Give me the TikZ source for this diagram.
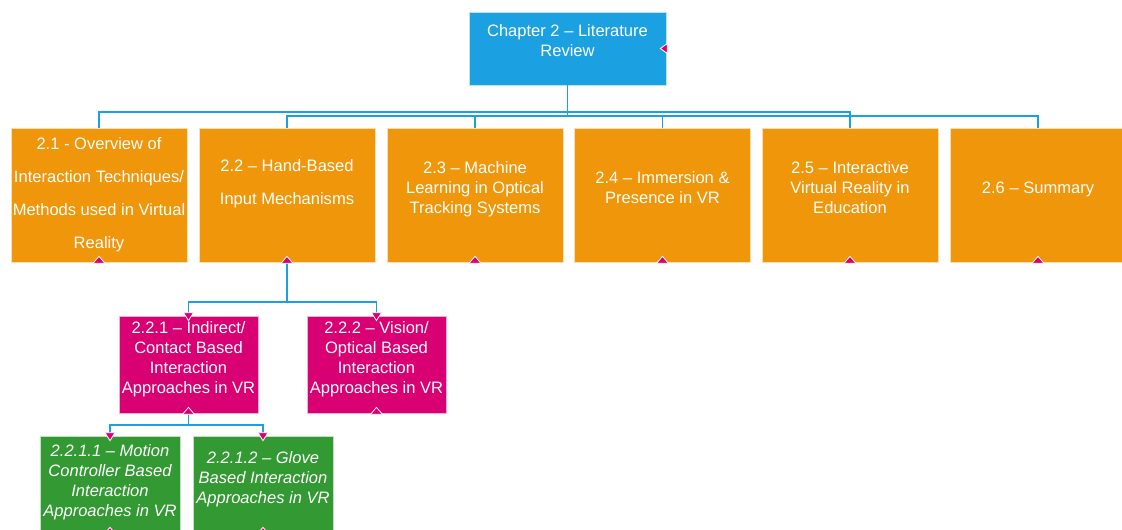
\documentclass[tikz,border=0pt]{standalone}
\usepackage{fontspec}
\setmainfont{Liberation Sans}
\usetikzlibrary{positioning}
\definecolor{chapblue}{HTML}{1BA1E2}
\definecolor{secorange}{HTML}{F0960B}
\definecolor{subpink}{HTML}{D80073}
\definecolor{subgreen}{HTML}{339933}
\tikzset{
  box/.style={draw=white!70!#1, line width=0.5pt, fill=#1, text=white, align=center,
    font=\fontsize{12.4}{15}\selectfont, inner sep=0pt},
  chapbox/.style={box=chapblue, minimum width=147.75pt, minimum height=54.75pt},
  secbox/.style={box=secorange, minimum width=132pt, minimum height=100.5pt},
  subbox/.style={box=subpink, minimum width=104.25pt, minimum height=72.75pt},
  leafbox/.style={box=subgreen, minimum width=105pt, minimum height=72.75pt,
    font=\fontsize{12.4}{15}\selectfont\itshape},
  loose/.style={font=\fontsize{12.4}{24.75}\selectfont},
  link/.style={draw=chapblue, line width=1.3pt},
  notch/.style={fill=subpink, draw=white, line width=0.6pt}
}
\begin{document}
\begin{tikzpicture}[x=0.75pt, y=-0.75pt]
  \useasboundingbox (0,0) rectangle (1122,529);

  % chapter
  \node [chapbox] (chap) at (567.5,48.5) {Chapter 2 -- Literature\\Review\\[-3.75pt]};

  % sections
  \node [secbox, loose] (s1) at (99,195) {2.1 - Overview of\\Interaction Techniques/\\Methods used in Virtual\\Reality};
  \node [secbox, loose] (s2) at (287,195) {2.2 -- Hand-Based\\Input Mechanisms\\[-5.5pt]};
  \node [secbox] (s3) at (475,195) {2.3 -- Machine\\Learning in Optical\\Tracking Systems\\[-4.5pt]};
  \node [secbox] (s4) at (662.5,195) {2.4 -- Immersion \&\\Presence in VR\\[-4.5pt]};
  \node [secbox] (s5) at (850,195) {2.5 -- Interactive\\Virtual Reality in\\Education\\[-4.5pt]};
  \node [secbox] (s6) at (1038,195) {2.6 -- Summary\\[-4.5pt]};

  % subsections of 2.2
  \node [subbox] (s21) at (188.5,364.5) {2.2.1 -- Indirect/\\Contact Based\\Interaction\\Approaches in VR\\[-4.5pt]};
  \node [subbox] (s22) at (376.5,364.5) {2.2.2 -- Vision/\\Optical Based\\Interaction\\Approaches in VR\\[-4.5pt]};

  % subsections of 2.2.1
  \node [leafbox] (s211) at (110,484.5) {2.2.1.1 -- Motion\\Controller Based\\Interaction\\Approaches in VR\\[-8.5pt]};
  \node [leafbox] (s212) at (263,484.5) {2.2.1.2 -- Glove\\Based Interaction\\Approaches in VR\\[-4.5pt]};

  % connectors
  \draw [link] (chap.south) -- ++(0,27) -| (s1.north);
  \draw [link] (chap.south) -- ++(0,27) -| (s5.north);
  \draw [link] (chap.south) -- ++(0,31) -| (s2.north);
  \draw [link] (chap.south) -- ++(0,31) -| (s3.north);
  \draw [link] (chap.south) -- ++(0,31) -| (s4.north);
  \draw [link] (chap.south) -- ++(0,31) -| (s6.north);
  \draw [link] (s2.south) -- ++(0,40) -| (s21.north);
  \draw [link] (s2.south) -- ++(0,40) -| (s22.north);
  \draw [link] (s21.south) -- ++(0,12) -| (s211.north);
  \draw [link] (s21.south) -- ++(0,12) -| (s212.north);

  % notches
  \foreach \n in {s1,s2,s3,s4,s5,s6,s21,s22,s211,s212}
    \filldraw [notch] (\n.south) +(-6,1) -- +(0,-6) -- +(6,1) -- cycle;
  \foreach \n in {s21,s22,s211,s212}
    \filldraw [notch] (\n.north) +(-5,-3) -- +(0,5) -- +(5,-3) -- cycle;
  \filldraw [notch] (chap.east) +(1,-5) -- +(-6,0) -- +(1,5) -- cycle;
\end{tikzpicture}
\end{document}
